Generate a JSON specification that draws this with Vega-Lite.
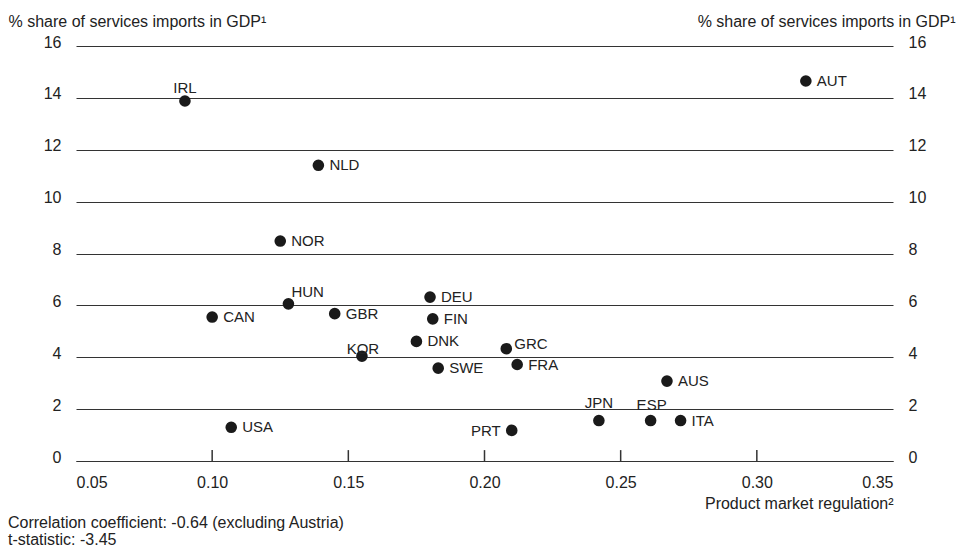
{
  "$schema": "https://vega.github.io/schema/vega-lite/v6.json",
  "width": 817,
  "height": 415,
  "autosize": "none",
  "padding": {"left": 76, "top": 46, "right": 69, "bottom": 86},
  "background": "white",
  "config": {
    "font": "Liberation Sans",
    "view": {"stroke": null},
    "axis": {"labelFont": "Liberation Sans", "titleFont": "Liberation Sans", "labelColor": "#222", "titleColor": "#222"}
  },
  "title": {
    "text": ["Correlation coefficient: -0.64 (excluding Austria)", "t-statistic: -3.45"],
    "orient": "bottom",
    "anchor": "start",
    "frame": "group",
    "dx": -68,
    "offset": 4,
    "fontSize": 16,
    "fontWeight": "normal",
    "lineHeight": 17,
    "color": "#222",
    "font": "Liberation Sans"
  },
  "data": {
    "values": [
      {"country": "IRL", "pmr": 0.090, "imports": 13.88},
      {"country": "AUT", "pmr": 0.318, "imports": 14.65},
      {"country": "NLD", "pmr": 0.139, "imports": 11.40},
      {"country": "NOR", "pmr": 0.125, "imports": 8.48},
      {"country": "HUN", "pmr": 0.128, "imports": 6.06},
      {"country": "CAN", "pmr": 0.100, "imports": 5.55},
      {"country": "GBR", "pmr": 0.145, "imports": 5.68},
      {"country": "DEU", "pmr": 0.180, "imports": 6.32},
      {"country": "FIN", "pmr": 0.181, "imports": 5.48},
      {"country": "DNK", "pmr": 0.175, "imports": 4.61},
      {"country": "KOR", "pmr": 0.155, "imports": 4.04},
      {"country": "GRC", "pmr": 0.208, "imports": 4.33},
      {"country": "SWE", "pmr": 0.183, "imports": 3.58},
      {"country": "FRA", "pmr": 0.212, "imports": 3.72},
      {"country": "AUS", "pmr": 0.267, "imports": 3.08},
      {"country": "JPN", "pmr": 0.242, "imports": 1.56},
      {"country": "ESP", "pmr": 0.261, "imports": 1.56},
      {"country": "ITA", "pmr": 0.272, "imports": 1.56},
      {"country": "USA", "pmr": 0.107, "imports": 1.30},
      {"country": "PRT", "pmr": 0.210, "imports": 1.18}
    ]
  },
  "encoding": {
    "x": {
      "field": "pmr",
      "type": "quantitative",
      "scale": {"domain": [0.05, 0.35], "nice": false, "zero": false},
      "axis": {
        "values": [0.05, 0.1, 0.15, 0.2, 0.25, 0.3, 0.35],
        "format": ".2f",
        "grid": false,
        "domain": true,
        "domainColor": "#333",
        "domainWidth": 1,
        "ticks": false,
        "labelFontSize": 16,
        "labelBaseline": "alphabetic",
        "labelPadding": 26,
        "title": "Product market regulation²",
        "titleFontSize": 16,
        "titleFontWeight": "normal",
        "titleAlign": "right",
        "titleAnchor": null,
        "titleBaseline": "alphabetic",
        "titleX": 817,
        "titleY": 47
      }
    }
  },
  "layer": [
    {
      "mark": {"type": "circle", "size": 135, "color": "#1a1a1a", "opacity": 1},
      "encoding": {
        "y": {
          "field": "imports",
          "type": "quantitative",
          "scale": {"domain": [0, 16], "nice": false},
          "axis": {
            "orient": "left",
            "values": [0, 2, 4, 6, 8, 10, 12, 14, 16],
            "grid": true,
            "gridColor": "#333",
            "gridWidth": 1,
            "gridOpacity": 1,
            "domain": false,
            "ticks": false,
            "labelFontSize": 16,
            "labelPadding": 15,
            "labelBaseline": "alphabetic",
            "labelOffset": 1,
            "title": "% share of services imports in GDP¹",
            "titleFontSize": 16,
            "titleFontWeight": "normal",
            "titleAngle": 0,
            "titleAlign": "left",
            "titleAnchor": null,
            "titleBaseline": "alphabetic",
            "titleX": -68,
            "titleY": -20
          }
        }
      }
    },
    {
      "transform": [{"filter": {"field": "country", "oneOf": ["AUT", "NLD", "NOR", "CAN", "GBR", "DEU", "FIN", "DNK", "SWE", "FRA", "AUS", "ITA", "USA"]}}],
      "mark": {"type": "text", "align": "left", "baseline": "middle", "dx": 11, "dy": 0, "fontSize": 15, "color": "#222"},
      "encoding": {
        "text": {"field": "country"},
        "y": {
          "field": "imports",
          "type": "quantitative",
          "axis": {
            "orient": "right",
            "values": [0, 2, 4, 6, 8, 10, 12, 14, 16],
            "grid": false,
            "domain": false,
            "ticks": false,
            "labelFontSize": 16,
            "labelPadding": 15,
            "labelBaseline": "alphabetic",
            "labelOffset": 1,
            "title": "% share of services imports in GDP¹",
            "titleFontSize": 16,
            "titleFontWeight": "normal",
            "titleAngle": 0,
            "titleAlign": "right",
            "titleAnchor": null,
            "titleBaseline": "alphabetic",
            "titleX": 62,
            "titleY": -20
          }
        }
      }
    },
    {
      "transform": [{"filter": {"field": "country", "equal": "GRC"}}],
      "mark": {"type": "text", "align": "left", "baseline": "middle", "dx": 8, "dy": -5, "fontSize": 15, "color": "#222"},
      "encoding": {"text": {"field": "country"}, "y": {"field": "imports", "type": "quantitative", "axis": null}}
    },
    {
      "transform": [{"filter": {"field": "country", "equal": "PRT"}}],
      "mark": {"type": "text", "align": "right", "baseline": "middle", "dx": -11, "dy": 1, "fontSize": 15, "color": "#222"},
      "encoding": {"text": {"field": "country"}, "y": {"field": "imports", "type": "quantitative", "axis": null}}
    },
    {
      "transform": [{"filter": {"field": "country", "equal": "IRL"}}],
      "mark": {"type": "text", "align": "center", "baseline": "alphabetic", "dx": 0, "dy": -8, "fontSize": 15, "color": "#222"},
      "encoding": {"text": {"field": "country"}, "y": {"field": "imports", "type": "quantitative", "axis": null}}
    },
    {
      "transform": [{"filter": {"field": "country", "equal": "JPN"}}],
      "mark": {"type": "text", "align": "center", "baseline": "alphabetic", "dx": 0, "dy": -13, "fontSize": 15, "color": "#222"},
      "encoding": {"text": {"field": "country"}, "y": {"field": "imports", "type": "quantitative", "axis": null}}
    },
    {
      "transform": [{"filter": {"field": "country", "equal": "ESP"}}],
      "mark": {"type": "text", "align": "center", "baseline": "alphabetic", "dx": 1, "dy": -11, "fontSize": 15, "color": "#222"},
      "encoding": {"text": {"field": "country"}, "y": {"field": "imports", "type": "quantitative", "axis": null}}
    },
    {
      "transform": [{"filter": {"field": "country", "equal": "KOR"}}],
      "mark": {"type": "text", "align": "center", "baseline": "alphabetic", "dx": 1, "dy": -2, "fontSize": 15, "color": "#222"},
      "encoding": {"text": {"field": "country"}, "y": {"field": "imports", "type": "quantitative", "axis": null}}
    },
    {
      "transform": [{"filter": {"field": "country", "equal": "HUN"}}],
      "mark": {"type": "text", "align": "left", "baseline": "alphabetic", "dx": 3, "dy": -7, "fontSize": 15, "color": "#222"},
      "encoding": {"text": {"field": "country"}, "y": {"field": "imports", "type": "quantitative", "axis": null}}
    },
    {
      "data": {"values": [{"pmr": 0.10}, {"pmr": 0.15}, {"pmr": 0.20}, {"pmr": 0.25}, {"pmr": 0.30}]},
      "mark": {"type": "rule", "color": "#333", "strokeWidth": 1.5},
      "encoding": {
        "x": {"field": "pmr", "type": "quantitative"},
        "y": {"datum": 0, "type": "quantitative", "axis": null},
        "y2": {"datum": 0.42}
      }
    }
  ],
  "resolve": {"axis": {"y": "independent"}}
}
